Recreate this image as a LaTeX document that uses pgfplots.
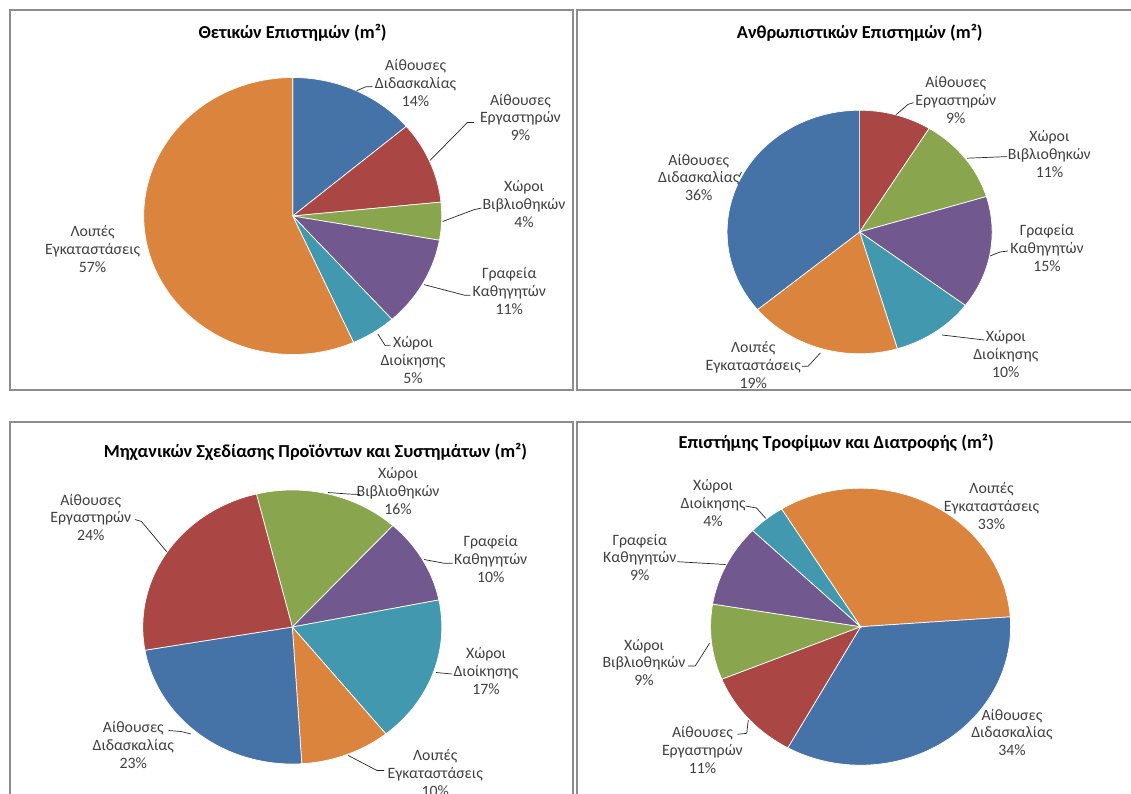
\documentclass[border=0pt]{standalone}
\usepackage{pgfplots}
\pgfplotsset{compat=1.18}
\usepackage{fontspec}
\setmainfont{Carlito}
\definecolor{cBlue}{HTML}{4572A7}
\definecolor{cRed}{HTML}{AA4643}
\definecolor{cGreen}{HTML}{89A54E}
\definecolor{cPurple}{HTML}{71588F}
\definecolor{cTeal}{HTML}{4198AF}
\definecolor{cOrange}{HTML}{DB843D}
\definecolor{cText}{HTML}{404040}
\definecolor{cBorder}{HTML}{8C8C8C}

% running start angle and one slice per percentage value
\newcommand\piestart[1]{\xdef\curang{#1}}
\newcommand\pieslice[2]{%
  \pgfmathsetmacro\nextang{\curang-3.6*#2}%
  \edef\temp{\noexpand\addplot[fill=#1, draw=white, line width=0.7pt, data cs=polar, domain=\nextang:\curang, samples=90] ({x},{1}) -- (axis cs:0,0) -- cycle;}%
  \temp
  \xdef\curang{\nextang}%
}
\pgfplotsset{pieaxis/.style={scale only axis, anchor=center, xmin=-1, xmax=1, ymin=-1, ymax=1, hide axis, clip=false}}
\tikzset{lab/.style={align=center, text=cText, inner sep=1pt, font=\fontsize{15.8}{17.8}\selectfont},
         ttl/.style={text=black, font=\bfseries\fontsize{18.3}{20}\selectfont},
         lead/.style={line width=0.7pt, black!85}}

\begin{document}
\begin{tikzpicture}[x=1pt,y=-1pt]
\useasboundingbox (0,0) rectangle (1131,794);
\clip (0,0) rectangle (1131,794);
\fill[white] (0,0) rectangle (1131,794);

% panel frames
\draw[cBorder, line width=1.3pt] (10,10) rectangle (573,390);
\draw[cBorder, line width=1.3pt] (577,10) rectangle (1140,390);
\draw[cBorder, line width=1.3pt] (10,422) rectangle (573,810);
\draw[cBorder, line width=1.3pt] (577,422) rectangle (1140,810);

% ---------- Pie 1 ----------
\begin{axis}[pieaxis, at={(292.7pt,-216pt)}, width=298pt, height=277pt]
\piestart{90}
\pieslice{cBlue}{13.8}
\pieslice{cRed}{9.6}
\pieslice{cGreen}{4.4}
\pieslice{cPurple}{10.6}
\pieslice{cTeal}{4.9}
\pieslice{cOrange}{56.7}
\end{axis}

% ---------- Pie 2 ----------
\begin{axis}[pieaxis, at={(859.6pt,-232pt)}, width=265pt, height=243.5pt]
\piestart{90}
\pieslice{cRed}{8.8}
\pieslice{cGreen}{11.5}
\pieslice{cPurple}{15.0}
\pieslice{cTeal}{10.1}
\pieslice{cOrange}{18.6}
\pieslice{cBlue}{36.0}
\end{axis}

% ---------- Pie 3 ----------
\begin{axis}[pieaxis, at={(292.3pt,-627pt)}, width=299pt, height=274pt]
\piestart{103.9}
\pieslice{cGreen}{15.6}
\pieslice{cPurple}{10.1}
\pieslice{cTeal}{17.4}
\pieslice{cOrange}{9.75}
\pieslice{cBlue}{23.3}
\pieslice{cRed}{23.85}
\end{axis}

% ---------- Pie 4 ----------
\begin{axis}[pieaxis, at={(860.6pt,-626.7pt)}, width=300pt, height=277pt]
\piestart{121.8}
\pieslice{cOrange}{32.7}
\pieslice{cBlue}{34.2}
\pieslice{cRed}{10.75}
\pieslice{cGreen}{8.8}
\pieslice{cPurple}{9.6}
\pieslice{cTeal}{3.95}
\end{axis}

% titles
\node[ttl] at (292.6,32.5) {Θετικών Επιστημών (m²)};
\node[ttl] at (859.8,32.7) {Ανθρωπιστικών Επιστημών (m²)};
\node[ttl] at (315.4,451.7) {Μηχανικών Σχεδίασης Προϊόντων και Συστημάτων (m²)};
\node[ttl] at (836.2,443.3) {Επιστήμης Τροφίμων και Διατροφής (m²)};

% labels pie 1
\node[lab] at (415.6,83.2) {Αίθουσες\\Διδασκαλίας\\14\%};
\node[lab] at (520.4,117.4) {Αίθουσες\\Εργαστηρών\\9\%};
\node[lab] at (524,204) {Χώροι\\Βιβλιοθηκών\\4\%};
\node[lab] at (509.3,291) {Γραφεία\\Καθηγητών\\11\%};
\node[lab] at (413,360) {Χώροι\\Διοίκησης\\5\%};
\node[lab] at (92.6,249) {Λοιπές\\Εγκαταστάσεις\\57\%};
\draw[lead] (372.7,86.7) -- (366,86.7) -- (356.7,90.7);
\draw[lead] (474,122.5) -- (467.4,122.5) -- (430,160.5);
\draw[lead] (481.5,208) -- (474,209.7) -- (442.6,221.5);
\draw[lead] (470.4,295.3) -- (464.8,295.3) -- (424,284.6);
\draw[lead] (390.7,345.6) -- (385.2,345.6) -- (377.8,333.9);

% labels pie 2
\node[lab] at (955.7,100.3) {Αίθουσες\\Εργαστηρών\\9\%};
\node[lab] at (1049.4,153.9) {Χώροι\\Βιβλιοθηκών\\11\%};
\node[lab] at (1047,248.1) {Γραφεία\\Καθηγητών\\15\%};
\node[lab] at (1005.8,354.2) {Χώροι\\Διοίκησης\\10\%};
\node[lab] at (753.2,365.3) {Λοιπές\\Εγκαταστάσεις\\19\%};
\node[lab] at (698.8,177.4) {Αίθουσες\\Διδασκαλίας\\36\%};
\draw[lead] (913.5,102.7) -- (908,104.4) -- (896.3,114.5);
\draw[lead] (1007.2,156.6) -- (967.1,158.2);
\draw[lead] (1008,251) -- (1000,252) -- (990,256);
\draw[lead] (984.3,340) -- (942.1,335);
\draw[lead] (801.8,366.3) -- (808,366.3) -- (820.4,352.9);
\draw[lead] (739,177) -- (741.5,172);

% labels pie 3
\node[lab] at (398.1,491) {Χώροι\\Βιβλιοθηκών\\16\%};
\node[lab] at (490.7,559) {Γραφεία\\Καθηγητών\\10\%};
\node[lab] at (486,670.7) {Χώροι\\Διοίκησης\\17\%};
\node[lab] at (435.2,772.7) {Λοιπές\\Εγκαταστάσεις\\10\%};
\node[lab] at (133.3,745) {Αίθουσες\\Διδασκαλίας\\23\%};
\node[lab] at (90.7,517.3) {Αίθουσες\\Εργαστηρών\\24\%};
\draw[lead] (360,494.5) -- (348,494) -- (328,492.5);
\draw[lead] (452.6,563.3) -- (444.4,563.3) -- (424,559.5);
\draw[lead] (452,674) -- (436,672.5);
\draw[lead] (384,770.5) -- (377,770.5) -- (348.3,755.5);
\draw[lead] (168.5,730.5) -- (181,731.5) -- (191,734);
\draw[lead] (135,519.5) -- (141.5,521.5) -- (166.7,551.7);

% labels pie 4
\node[lab] at (991.5,506) {Λοιπές\\Εγκαταστάσεις\\33\%};
\node[lab] at (713.1,502.7) {Χώροι\\Διοίκησης\\4\%};
\node[lab] at (639.8,557.3) {Γραφεία\\Καθηγητών\\9\%};
\node[lab] at (644,662.3) {Χώροι\\Βιβλιοθηκών\\9\%};
\node[lab] at (702.4,750) {Αίθουσες\\Εργαστηρών\\11\%};
\node[lab] at (1011.9,732.3) {Αίθουσες\\Διδασκαλίας\\34\%};
\draw[lead] (745.5,506) -- (756.5,508) -- (765.7,518.3);
\draw[lead] (677.3,561.7) -- (725.6,564.5);
\draw[lead] (688,666) -- (695.2,666) -- (709.5,643.3);
\draw[lead] (737.7,734.3) -- (746.7,733.3) -- (748.3,720);
\end{tikzpicture}
\end{document}
